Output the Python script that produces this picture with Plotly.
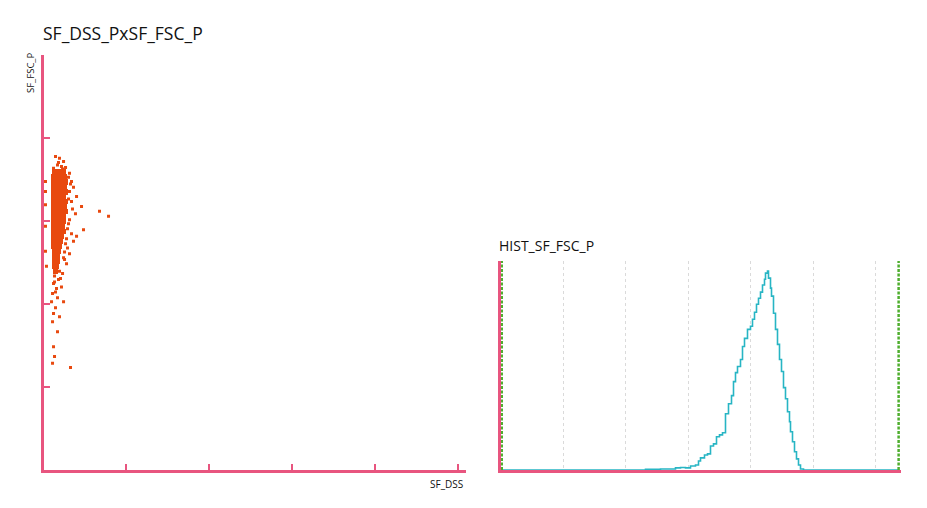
import plotly.graph_objects as go

# ---------------- Scatter (SF_DSS vs SF_FSC_P) ----------------
# dense core band, one row per y-level: left / right extent in SF_DSS units
band_y = [3.59, 3.53, 3.47, 3.41, 3.35, 3.29, 3.23, 3.17, 3.11, 3.05, 2.99,
          2.93, 2.87, 2.81, 2.75, 2.69, 2.63, 2.57, 2.51, 2.45, 2.39]
band_left = [0.10, 0.085, 0.085, 0.085, 0.085, 0.085, 0.085, 0.085, 0.085, 0.085, 0.085,
             0.085, 0.085, 0.085, 0.085, 0.085, 0.10, 0.10, 0.10, 0.10, 0.11]
band_right = [0.26, 0.28, 0.29, 0.28, 0.29, 0.27, 0.29, 0.28, 0.29, 0.27, 0.27,
              0.25, 0.26, 0.24, 0.23, 0.22, 0.21, 0.19, 0.19, 0.18, 0.17]

# sparse events
evt_x = [0.145, 0.193, 0.242, 0.169, 0.217, 0.266, 0.121, 0.181, 0.230,
         0.314, 0.338, 0.362, 0.314, 0.399, 0.338, 0.459, 0.676, 0.785, 0.386,
         0.314, 0.483, 0.338, 0.362, 0.290, 0.314, 0.254, 0.278, 0.399,
         0.302, 0.326, 0.302, 0.350, 0.302, 0.290, 0.278, 0.266, 0.254, 0.242,
         0.024, 0.024, 0.024, 0.024, 0.024, 0.036,
         0.133, 0.181, 0.121, 0.217, 0.145, 0.169, 0.097, 0.242, 0.145, 0.121,
         0.193, 0.109, 0.169, 0.121, 0.133, 0.109, 0.326, 0.109, 0.193, 0.157,
         0.205, 0.133, 0.230]
evt_y = [3.77, 3.75, 3.71, 3.67, 3.65, 3.64, 3.63, 3.70, 3.62,
         3.57, 3.47, 3.40, 3.35, 3.29, 3.23, 3.17, 3.11, 3.05, 3.08,
         3.01, 2.89, 2.84, 2.75, 2.67, 2.60, 2.53, 2.48, 2.81,
         3.52, 3.44, 3.26, 3.14, 2.96, 2.90, 2.78, 2.72, 2.62, 2.55,
         3.47, 3.35, 3.19, 2.93, 2.63, 2.45,
         2.33, 2.29, 2.24, 2.20, 2.14, 2.07, 2.02, 2.02, 1.95, 1.88,
         1.84, 1.78, 1.66, 1.48, 1.36, 1.28, 1.23, 2.12, 2.39, 2.18,
         2.30, 2.26, 2.36]

scatter_ticks = [0, 1, 2, 3, 4, 5]

# ---------------- Histogram (HIST_SF_FSC_P) ----------------
hist_x = [0.0, 2.32, 2.56, 2.72, 2.80, 2.88, 2.96, 3.04, 3.12, 3.168, 3.20,
          3.264, 3.312, 3.36, 3.408, 3.456, 3.504, 3.552, 3.60, 3.648, 3.696,
          3.728, 3.76, 3.792, 3.84, 3.872, 3.904, 3.952, 4.00, 4.032, 4.064,
          4.096, 4.128, 4.16, 4.192, 4.224, 4.24, 4.272, 4.288, 4.32, 4.336,
          4.368, 4.40, 4.432, 4.464, 4.496, 4.528, 4.56, 4.592, 4.624, 4.64,
          4.672, 4.704, 4.736, 4.768, 4.80, 4.848, 6.38]
hist_count = [0, 0.3, 0.5, 0.5, 1.0, 1.2, 1.0, 1.9, 2.4, 4.3, 5.8,
              7.2, 7.7, 11.5, 12.5, 15.9, 16.8, 17.8, 26.9, 31.7, 35.6,
              42.3, 46.6, 49.5, 52.9, 59.1, 63.0, 67.3, 68.8, 72.1, 75.5,
              79.3, 82.2, 85.1, 88.5, 91.3, 94.2, 95.2, 91.8, 87.0, 83.2,
              75.0, 67.3, 60.1, 52.9, 47.1, 39.4, 34.1, 27.9, 23.1, 18.3,
              13.5, 8.7, 5.3, 2.4, 0.5, 0, 0]
gate_x = [0.02, 6.37]

PINK = "#e8557f"
ORANGE = "#e8490f"
TEAL = "#27b5c4"
GREEN = "#4fae2e"
FONT = "Open Sans"

fig = go.Figure()

fig.add_trace(go.Bar(
    y=band_y, x=[r - l for l, r in zip(band_left, band_right)], base=band_left,
    orientation="h", width=0.062, marker=dict(color=ORANGE, line=dict(width=0)),
    xaxis="x", yaxis="y", showlegend=False, hoverinfo="skip"))
fig.add_trace(go.Scatter(
    x=evt_x, y=evt_y, mode="markers",
    marker=dict(symbol="square", size=3, color=ORANGE, line=dict(width=0)),
    xaxis="x", yaxis="y", showlegend=False))

fig.add_trace(go.Scatter(
    x=hist_x, y=hist_count, mode="lines", line=dict(color=TEAL, width=1.6, shape="hv"),
    xaxis="x2", yaxis="y2", showlegend=False))
for g in gate_x:
    fig.add_trace(go.Scatter(
        x=[g, g], y=[0, 100], mode="lines",
        line=dict(color=GREEN, width=2.5, dash="3px,1.5px"),
        xaxis="x2", yaxis="y2", showlegend=False))

# page body has an 8px margin: figure is placed at (8, 8)
OFF = 8
W, H = 927 - 2 * OFF, 508 - 2 * OFF


def px(v):
    return (v - OFF) / W


def py(v):
    return 1 - (v - OFF) / H


axis_common = dict(showline=True, linecolor=PINK, linewidth=3, showticklabels=False,
                   zeroline=False, showgrid=False, fixedrange=True)

fig.update_layout(
    width=W, height=H, margin=dict(l=0, r=0, t=0, b=0),
    paper_bgcolor="white", plot_bgcolor="white",
    font=dict(family=FONT, color="#111111"),
    bargap=0,
    xaxis=dict(domain=[px(43.5), px(466)], range=[0, 5.1], anchor="y",
               tickvals=scatter_ticks, ticks="inside", ticklen=6, tickwidth=2,
               tickcolor=PINK, **axis_common),
    yaxis=dict(domain=[py(469.5), py(54.5)], range=[0, 5], anchor="x",
               tickvals=scatter_ticks, ticks="inside", ticklen=6, tickwidth=2,
               tickcolor=PINK, **axis_common),
    xaxis2=dict(domain=[px(500.5), px(900.5)], range=[0, 6.4], anchor="y2",
                showline=True, linecolor=PINK, linewidth=3, showticklabels=False,
                zeroline=False, showgrid=True, gridcolor="#dadada", griddash="3px,3px",
                gridwidth=1, dtick=1, tick0=0, fixedrange=True),
    yaxis2=dict(domain=[py(470), py(261)], range=[0, 100], anchor="x2",
                **axis_common),
    annotations=[
        dict(text="SF_DSS_PxSF_FSC_P", x=px(41), y=py(33), xref="paper", yref="paper",
             xanchor="left", yanchor="middle", showarrow=False,
             font=dict(size=17.5, family=FONT, color="#111111")),
        dict(text="SF_FSC_P", x=px(31), y=py(73), xref="paper", yref="paper",
             xanchor="center", yanchor="middle", textangle=-90, showarrow=False,
             font=dict(size=9.5, family=FONT, color="#111111")),
        dict(text="SF_DSS", x=px(465), y=py(484), xref="paper", yref="paper",
             xanchor="right", yanchor="middle", showarrow=False,
             font=dict(size=10, family=FONT, color="#111111")),
        dict(text="HIST_SF_FSC_P", x=px(497), y=py(245), xref="paper", yref="paper",
             xanchor="left", yanchor="middle", showarrow=False,
             font=dict(size=14, family=FONT, color="#111111")),
    ],
)

fig.write_html("out.html")
